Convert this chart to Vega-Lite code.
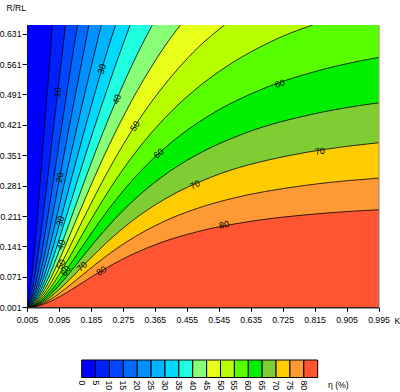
{
"$schema": "https://vega.github.io/schema/vega-lite/v6.json",
"padding": {"left": -2, "top": 3, "right": 0, "bottom": 0},
"background": "white",
"bounds": "flush",
"spacing": 52,
"config": {"view": {"stroke": null}, "font": "Liberation Sans"},
"resolve": {"scale": {"color": "independent", "x": "independent", "y": "independent"}},
"datasets": {
"curves": [
{"c":80,"K":0,"r":0},{"c":80,"K":0.04055,"r":0.005},{"c":80,"K":0.08457,"r":0.02},{"c":80,"K":0.14636,"r":0.05},{"c":80,"K":0.19484,"r":0.075},{"c":80,"K":0.24701,"r":0.1},{"c":80,"K":0.3074,"r":0.125},{"c":80,"K":0.38247,"r":0.15},{"c":80,"K":0.48445,"r":0.175},{"c":80,"K":0.64399,"r":0.2},{"c":80,"K":0.80525,"r":0.215},{"c":80,"K":0.995,"r":0.2256},{"c":80,"K":1.1116,"r":0.23},
{"c":75,"K":0,"r":0},{"c":75,"K":0.03503,"r":0.005},{"c":75,"K":0.07246,"r":0.02},{"c":75,"K":0.12296,"r":0.05},{"c":75,"K":0.16036,"r":0.075},{"c":75,"K":0.19805,"r":0.1},{"c":75,"K":0.28247,"r":0.15},{"c":75,"K":0.39436,"r":0.2},{"c":75,"K":0.47102,"r":0.225},{"c":75,"K":0.57446,"r":0.25},{"c":75,"K":0.77318,"r":0.28},{"c":75,"K":0.99,"r":0.298},{"c":75,"K":1.0239,"r":0.3},
{"c":70,"K":0,"r":0},{"c":70,"K":0.03084,"r":0.005},{"c":70,"K":0.06345,"r":0.02},{"c":70,"K":0.10638,"r":0.05},{"c":70,"K":0.16689,"r":0.1},{"c":70,"K":0.22915,"r":0.15},{"c":70,"K":0.3012,"r":0.2},{"c":70,"K":0.39243,"r":0.25},{"c":70,"K":0.52133,"r":0.3},{"c":70,"K":0.74057,"r":0.35},{"c":70,"K":0.84766,"r":0.365},{"c":70,"K":0.9975,"r":0.38},{"c":70,"K":1.14,"r":0.39},
{"c":65,"K":0,"r":0},{"c":65,"K":0.02748,"r":0.005},{"c":65,"K":0.05633,"r":0.02},{"c":65,"K":0.09365,"r":0.05},{"c":65,"K":0.14447,"r":0.1},{"c":65,"K":0.19405,"r":0.15},{"c":65,"K":0.24752,"r":0.2},{"c":65,"K":0.30876,"r":0.25},{"c":65,"K":0.3828,"r":0.3},{"c":65,"K":0.47818,"r":0.35},{"c":65,"K":0.61264,"r":0.4},{"c":65,"K":0.83445,"r":0.45},{"c":65,"K":0.9793,"r":0.47},{"c":65,"K":1.0252,"r":0.475},
{"c":60,"K":0,"r":0},{"c":60,"K":0.02467,"r":0.005},{"c":60,"K":0.05044,"r":0.02},{"c":60,"K":0.08335,"r":0.05},{"c":60,"K":0.12709,"r":0.1},{"c":60,"K":0.16826,"r":0.15},{"c":60,"K":0.21079,"r":0.2},{"c":60,"K":0.2569,"r":0.25},{"c":60,"K":0.30871,"r":0.3},{"c":60,"K":0.36889,"r":0.35},{"c":60,"K":0.44145,"r":0.4},{"c":60,"K":0.53319,"r":0.45},{"c":60,"K":0.65727,"r":0.5},{"c":60,"K":0.8445,"r":0.55},{"c":60,"K":0.98598,"r":0.575},{"c":60,"K":1.195,"r":0.6},
{"c":55,"K":0,"r":0},{"c":55,"K":0.02226,"r":0.005},{"c":55,"K":0.0454,"r":0.02},{"c":55,"K":0.07468,"r":0.05},{"c":55,"K":0.11289,"r":0.1},{"c":55,"K":0.18315,"r":0.2},{"c":55,"K":0.25968,"r":0.3},{"c":55,"K":0.30338,"r":0.35},{"c":55,"K":0.35252,"r":0.4},{"c":55,"K":0.40902,"r":0.45},{"c":55,"K":0.4757,"r":0.5},{"c":55,"K":0.557,"r":0.55},{"c":55,"K":0.66067,"r":0.6},{"c":55,"K":0.72507,"r":0.625},{"c":55,"K":0.81,"r":0.651},
{"c":50,"K":0,"r":0},{"c":50,"K":0.02012,"r":0.005},{"c":50,"K":0.04097,"r":0.02},{"c":50,"K":0.06715,"r":0.05},{"c":50,"K":0.10084,"r":0.1},{"c":50,"K":0.161,"r":0.2},{"c":50,"K":0.22343,"r":0.3},{"c":50,"K":0.2943,"r":0.4},{"c":50,"K":0.33465,"r":0.45},{"c":50,"K":0.37947,"r":0.5},{"c":50,"K":0.43,"r":0.55},{"c":50,"K":0.48794,"r":0.6},{"c":50,"K":0.5613,"r":0.651},
{"c":45,"K":0,"r":0},{"c":45,"K":0.01819,"r":0.005},{"c":45,"K":0.03699,"r":0.02},{"c":45,"K":0.06045,"r":0.05},{"c":45,"K":0.09031,"r":0.1},{"c":45,"K":0.14243,"r":0.2},{"c":45,"K":0.19466,"r":0.3},{"c":45,"K":0.25141,"r":0.4},{"c":45,"K":0.31574,"r":0.5},{"c":45,"K":0.35182,"r":0.55},{"c":45,"K":0.39122,"r":0.6},{"c":45,"K":0.4372,"r":0.651},
{"c":40,"K":0,"r":0},{"c":40,"K":0.01641,"r":0.005},{"c":40,"K":0.03334,"r":0.02},{"c":40,"K":0.05436,"r":0.05},{"c":40,"K":0.08085,"r":0.1},{"c":40,"K":0.1263,"r":0.2},{"c":40,"K":0.17065,"r":0.3},{"c":40,"K":0.21736,"r":0.4},{"c":40,"K":0.26833,"r":0.5},{"c":40,"K":0.32529,"r":0.6},{"c":40,"K":0.3581,"r":0.651},
{"c":35,"K":0,"r":0},{"c":35,"K":0.01475,"r":0.005},{"c":35,"K":0.02992,"r":0.02},{"c":35,"K":0.04869,"r":0.05},{"c":35,"K":0.07217,"r":0.1},{"c":35,"K":0.11186,"r":0.2},{"c":35,"K":0.1498,"r":0.3},{"c":35,"K":0.18885,"r":0.4},{"c":35,"K":0.2295,"r":0.5},{"c":35,"K":0.2725,"r":0.6},{"c":35,"K":0.2955,"r":0.651},
{"c":30,"K":0,"r":0},{"c":30,"K":0.01315,"r":0.005},{"c":30,"K":0.02667,"r":0.02},{"c":30,"K":0.04332,"r":0.05},{"c":30,"K":0.06401,"r":0.1},{"c":30,"K":0.09859,"r":0.2},{"c":30,"K":0.13109,"r":0.3},{"c":30,"K":0.16395,"r":0.4},{"c":30,"K":0.19817,"r":0.5},{"c":30,"K":0.2344,"r":0.6},{"c":30,"K":0.2545,"r":0.651},
{"c":25,"K":0,"r":0},{"c":25,"K":0.0116,"r":0.005},{"c":25,"K":0.0235,"r":0.02},{"c":25,"K":0.03811,"r":0.05},{"c":25,"K":0.05618,"r":0.1},{"c":25,"K":0.08606,"r":0.2},{"c":25,"K":0.11376,"r":0.3},{"c":25,"K":0.14138,"r":0.4},{"c":25,"K":0.16971,"r":0.5},{"c":25,"K":0.1992,"r":0.6},{"c":25,"K":0.2142,"r":0.651},
{"c":20,"K":0,"r":0},{"c":20,"K":0.01004,"r":0.005},{"c":20,"K":0.02033,"r":0.02},{"c":20,"K":0.03293,"r":0.05},{"c":20,"K":0.04844,"r":0.1},{"c":20,"K":0.07387,"r":0.2},{"c":20,"K":0.09718,"r":0.3},{"c":20,"K":0.12015,"r":0.4},{"c":20,"K":0.14343,"r":0.5},{"c":20,"K":0.16736,"r":0.6},{"c":20,"K":0.1792,"r":0.651},
{"c":15,"K":0,"r":0},{"c":15,"K":0.008435,"r":0.005},{"c":15,"K":0.01707,"r":0.02},{"c":15,"K":0.02762,"r":0.05},{"c":15,"K":0.04055,"r":0.1},{"c":15,"K":0.06159,"r":0.2},{"c":15,"K":0.08069,"r":0.3},{"c":15,"K":0.09933,"r":0.4},{"c":15,"K":0.11805,"r":0.5},{"c":15,"K":0.1371,"r":0.6},{"c":15,"K":0.1474,"r":0.651},
{"c":10,"K":0,"r":0},{"c":10,"K":0.006692,"r":0.005},{"c":10,"K":0.01353,"r":0.02},{"c":10,"K":0.02188,"r":0.05},{"c":10,"K":0.03207,"r":0.1},{"c":10,"K":0.04854,"r":0.2},{"c":10,"K":0.06338,"r":0.3},{"c":10,"K":0.07774,"r":0.4},{"c":10,"K":0.09204,"r":0.5},{"c":10,"K":0.10648,"r":0.6},{"c":10,"K":0.1135,"r":0.651},
{"c":5,"K":0,"r":0},{"c":5,"K":0.004605,"r":0.005},{"c":5,"K":0.00931,"r":0.02},{"c":5,"K":0.01504,"r":0.05},{"c":5,"K":0.02201,"r":0.1},{"c":5,"K":0.03321,"r":0.2},{"c":5,"K":0.04323,"r":0.3},{"c":5,"K":0.05286,"r":0.4},{"c":5,"K":0.06239,"r":0.5},{"c":5,"K":0.07194,"r":0.6},{"c":5,"K":0.0762,"r":0.651}
],
"labels": [
{"t":"10","K":0.0915,"r":0.496,"a":-83},
{"t":"20","K":0.0972,"r":0.30,"a":-79},
{"t":"30","K":0.0986,"r":0.20,"a":-74},
{"t":"30","K":0.216,"r":0.55,"a":-73},
{"t":"40","K":0.101,"r":0.145,"a":-70},
{"t":"40","K":0.258,"r":0.48,"a":-67},
{"t":"50","K":0.1008,"r":0.10,"a":-63},
{"t":"50","K":0.309,"r":0.418,"a":-57},
{"t":"60","K":0.114,"r":0.085,"a":-54},
{"t":"60","K":0.376,"r":0.355,"a":-40},
{"t":"60","K":0.717,"r":0.516,"a":-18},
{"t":"70","K":0.16,"r":0.0947,"a":-45},
{"t":"70","K":0.478,"r":0.283,"a":-25},
{"t":"70","K":0.83,"r":0.36,"a":-8},
{"t":"80","K":0.215,"r":0.085,"a":-31},
{"t":"80","K":0.56,"r":0.191,"a":-11}
],
"bands": [
{"lo":0,"hi":5},{"lo":5,"hi":10},{"lo":10,"hi":15},{"lo":15,"hi":20},{"lo":20,"hi":25},{"lo":25,"hi":30},{"lo":30,"hi":35},{"lo":35,"hi":40},{"lo":40,"hi":45},{"lo":45,"hi":50},{"lo":50,"hi":55},{"lo":55,"hi":60},{"lo":60,"hi":65},{"lo":65,"hi":70},{"lo":70,"hi":75},{"lo":75,"hi":80},{"lo":80,"hi":85}
]
},
"vconcat": [
{
"width": 351.5,
"height": 282.3,
"view": {"fill": "#FF5533", "stroke": "#808080"},
"encoding": {
"x": {"field": "K", "type": "quantitative", "scale": {"domain": [0.005, 0.995], "nice": false, "zero": false},
 "axis": {"values": [0.005,0.095,0.185,0.275,0.365,0.455,0.545,0.635,0.725,0.815,0.905,0.995], "format": ".3f", "title": "K", "titleX": 367, "titleY": 9, "titleAlign": "left", "titleBaseline": "top", "titleFontWeight": "normal", "titleFontSize": 8.7, "titleColor": "#000", "labelFontSize": 8.7, "labelColor": "#000", "tickSize": 4, "tickColor": "#000", "domainColor": "#000", "labelPadding": 4, "grid": false, "labelFlush": false, "labelOverlap": false, "labelBound": false}},
"y": {"field": "r", "type": "quantitative", "scale": {"domain": [0.001, 0.651], "nice": false, "zero": false},
 "axis": {"values": [0.001,0.071,0.141,0.211,0.281,0.351,0.421,0.491,0.561,0.631], "format": ".3f", "title": "R/RL", "titleAngle": 0, "titleAlign": "left", "titleBaseline": "alphabetic", "titleX": -21, "titleY": -14.5, "titleFontWeight": "normal", "titleFontSize": 8.5, "titleColor": "#000", "labelFontSize": 8.7, "labelColor": "#000", "tickSize": 5, "tickColor": "#000", "domainColor": "#000", "labelPadding": 1, "grid": false, "labelFlush": false, "labelOverlap": false, "labelBound": false}}
},
"layer": [
{
"data": {"name": "curves"},
"mark": {"type": "area", "interpolate": "monotone", "clip": true},
"encoding": {
"y2": {"datum": 0.651},
"color": {"field": "c", "type": "ordinal", "scale": {"domain": [80,75,70,65,60,55,50,45,40,35,30,25,20,15,10,5], "range": ["#FF9933","#FFCC00","#80CC33","#00F000","#58FF00","#B8FF00","#E8FF1A","#88FF77","#20FFE0","#00DAFF","#00B4FF","#0090FF","#006CFF","#0048FF","#0020FF","#0000FF"]}, "legend": null}
}
},
{
"data": {"name": "curves"},
"mark": {"type": "line", "interpolate": "monotone", "clip": true, "color": "#000", "strokeWidth": 0.8},
"encoding": {
"detail": {"field": "c", "type": "nominal"}
}
},
{
"data": {"name": "labels"},
"mark": {"type": "text", "fontSize": 9, "color": "#000", "clip": true},
"encoding": {
"text": {"field": "t"},
"angle": {"field": "a", "type": "quantitative", "scale": null}
}
}
]
},
{
"width": 351.5,
"height": 32,
"data": {"name": "bands"},
"layer": [
{
"mark": {"type": "rect", "stroke": "#000", "strokeWidth": 1},
"encoding": {
"x": {"field": "lo", "type": "quantitative", "scale": {"domain": [-19.7, 106.9], "nice": false, "zero": false}, "axis": null},
"x2": {"field": "hi"},
"y": {"datum": 0, "type": "quantitative", "scale": {"domain": [0, 32], "reverse": true, "nice": false, "zero": false}, "axis": null},
"y2": {"datum": 17.5},
"color": {"field": "lo", "type": "ordinal", "scale": {"domain": [0,5,10,15,20,25,30,35,40,45,50,55,60,65,70,75,80], "range": ["#0000FF","#0020FF","#0048FF","#006CFF","#0090FF","#00B4FF","#00DAFF","#20FFE0","#88FF77","#E8FF1A","#B8FF00","#58FF00","#00F000","#80CC33","#FFCC00","#FF9933","#FF5533"]}, "legend": null}
}
},
{
"mark": {"type": "text", "angle": 90, "align": "left", "baseline": "middle", "fontSize": 8.7, "color": "#000"},
"encoding": {
"x": {"field": "lo", "type": "quantitative"},
"y": {"datum": 20.5, "type": "quantitative"},
"text": {"field": "lo", "type": "quantitative"}
}
},
{
"data": {"values": [{"t": "η (%)"}]},
"mark": {"type": "text", "align": "left", "baseline": "middle", "fontSize": 8.7, "color": "#000"},
"encoding": {
"x": {"datum": 88.7, "type": "quantitative"},
"y": {"datum": 25, "type": "quantitative"},
"text": {"field": "t"}
}
}
]
}
]
}
